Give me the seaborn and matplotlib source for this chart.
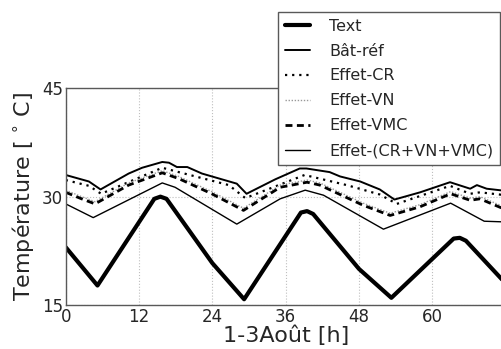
import numpy as np
import pandas as pd
import matplotlib
matplotlib.use("Agg")
import matplotlib.pyplot as plt
import seaborn as sns

# Heures (1-3 août) et températures
text_h = [0, 5.2, 14.5, 15.5, 16.5, 24, 29.2, 38.5, 39.5, 40.5, 48, 53.3, 63.5, 64.5, 65.5, 72]
text_t = [23.0, 17.7, 29.7, 30.0, 29.7, 20.8, 15.8, 27.8, 28.0, 27.6, 20.0, 16.0, 24.2, 24.3, 23.9, 18.0]

bat_h = [0, 3.8, 5.7, 10.3, 12.5, 15.8, 16.9, 18.2, 19.9, 22.3, 28.0, 29.6, 34.3, 38.3, 39.4,
         43.2, 44.9, 48.2, 51.4, 53.8, 58, 62.9, 66.2, 67.3, 68.9, 72]
bat_t = [33.0, 32.1, 31.0, 33.2, 34.0, 34.8, 34.7, 34.1, 34.1, 33.2, 31.8, 30.4, 32.4, 33.9, 33.9,
         33.4, 32.8, 32.1, 31.0, 29.6, 30.6, 32.0, 31.1, 31.6, 31.1, 30.8]

cr_h = [0, 3.8, 5.8, 15.8, 18.5, 26.7, 29.4, 39.1, 46, 51.4, 54.2, 62.9, 66.2, 67.8, 72]
cr_t = [32.3, 31.5, 30.4, 34.0, 33.4, 31.6, 29.8, 33.0, 31.6, 30.3, 29.0, 31.5, 30.4, 30.6, 30.2]

vmc_h = [0, 2.6, 4.8, 10.3, 15.8, 18.5, 23.9, 29.1, 35.1, 39.5, 41.6, 48.7, 53.1, 58, 63.0, 66.2, 67.8, 72]
vmc_t = [30.6, 29.7, 29.0, 31.6, 33.3, 32.5, 30.4, 28.1, 31.3, 32.0, 31.6, 28.8, 27.4, 28.6, 30.4, 29.5, 29.7, 28.2]

vn_h = [0, 2.6, 4.8, 10.3, 15.8, 18.5, 23.9, 29.1, 35.1, 39.5, 41.6, 48.7, 53.1, 58, 63.0, 66.2, 67.8, 72]
vn_t = [30.9, 30.0, 29.3, 31.9, 33.6, 32.8, 30.7, 28.4, 31.6, 32.3, 31.9, 29.1, 27.7, 28.9, 30.7, 29.8, 30.0, 28.5]

all_h = [0, 4.5, 15.8, 17.9, 28.0, 35.1, 39.2, 42.2, 52.0, 63.0, 68.5, 72]
all_t = [29.0, 27.1, 31.9, 31.3, 26.2, 29.7, 30.9, 30.2, 25.5, 29.1, 26.6, 26.5]

x_ticks = [0, 12, 24, 36, 48, 60]
y_ticks = [15, 30, 45]

sns.set_style("white")
plt.rcParams['font.family'] = ['DejaVu Sans']
plt.rcParams['mathtext.fontset'] = 'dejavusans'

fig = plt.figure(figsize=(5.02, 3.49), dpi=100)
ax = fig.add_axes([0.1309, 0.126, 0.8763, 0.621])

series = [
    (text_h, text_t, "Text", dict(color="black", lw=3.0, linestyle="-")),
    (bat_h, bat_t, "Bât-réf", dict(color="black", lw=1.4, linestyle="-")),
    (cr_h, cr_t, "Effet-CR", dict(color="black", lw=1.6, linestyle=(0, (1, 2.2)))),
    (vn_h, vn_t, "Effet-VN", dict(color="0.6", lw=1.0, linestyle=(0, (1, 1.2)))),
    (vmc_h, vmc_t, "Effet-VMC", dict(color="black", lw=2.0, linestyle=(0, (2.5, 1.6)))),
    (all_h, all_t, "Effet-(CR+VN+VMC)", dict(color="black", lw=1.0, linestyle="-")),
]

for h, t, name, style in series:
    df = pd.DataFrame({"h": h, "t": t})
    sns.lineplot(data=df, x="h", y="t", ax=ax, label=name, sort=False, **style)

ax.set_xlim(0, 72)
ax.set_ylim(15, 45)
ax.set_xticks(x_ticks)
ax.set_yticks(y_ticks)
ax.tick_params(labelsize=12, direction="in", length=3, pad=2)
ax.grid(True, color="0.75", linestyle=":", linewidth=0.8)
for s in ax.spines.values():
    s.set_color("0.35")
    s.set_linewidth(1.0)

ax.set_xlabel("1-3Août [h]", fontsize=16, labelpad=0)
ax.set_ylabel("Température [$\\,^\\circ\\,$C]", fontsize=16, labelpad=4)

ax.legend(loc="upper right", bbox_to_anchor=(500 / 502, 1 - 12.3 / 349),
          bbox_transform=fig.transFigure, borderaxespad=0, fontsize=11.5,
          handlelength=1.6, handletextpad=1.2, labelspacing=0.62,
          frameon=True, fancybox=False, edgecolor="0.35", framealpha=1)
ax.get_legend().get_frame().set_linewidth(1.0)

fig.savefig("out.png", dpi=100)
